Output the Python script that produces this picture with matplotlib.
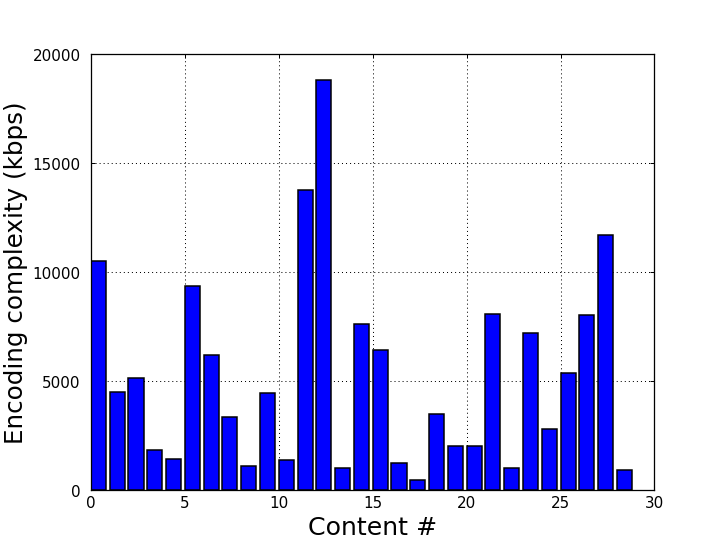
import matplotlib
matplotlib.use("Agg")
import matplotlib.pyplot as plt

# encoding complexity per content item (kbps)
content_ids = list(range(29))
complexity = [10500, 4520, 5160, 1840, 1430, 9350, 6220, 3360, 1100, 4470,
              1380, 13780, 18800, 1010, 7650, 6450, 1240, 500, 3500, 2030,
              2040, 8110, 1010, 7230, 2810, 5390, 8020, 11700, 920]

fig = plt.figure(figsize=(8, 6), dpi=90.9)
ax = fig.add_axes([0.125, 0.1, 0.775, 0.8])
ax.bar(content_ids, complexity, width=0.8, align="edge",
       color="#0000ff", edgecolor="black", linewidth=1.2)
ax.set_axisbelow(True)
ax.grid(True, color="black", linestyle=(0, (1, 3)), linewidth=0.8)
ax.set_xlim(0, 30)
ax.set_ylim(0, 20000)
ax.set_xticks(range(0, 31, 5))
ax.set_yticks(range(0, 20001, 5000))
ax.tick_params(direction="in", top=True, right=True, labelsize=12)
ax.tick_params(axis="x", pad=4)
ax.tick_params(axis="y", pad=8)
for s in ax.spines.values():
    s.set_linewidth(1.0)
ax.set_xlabel("Content #", fontsize=20)
ax.set_ylabel("Encoding complexity (kbps)", fontsize=19.5)
fig.savefig("out.png", dpi=90.9)
